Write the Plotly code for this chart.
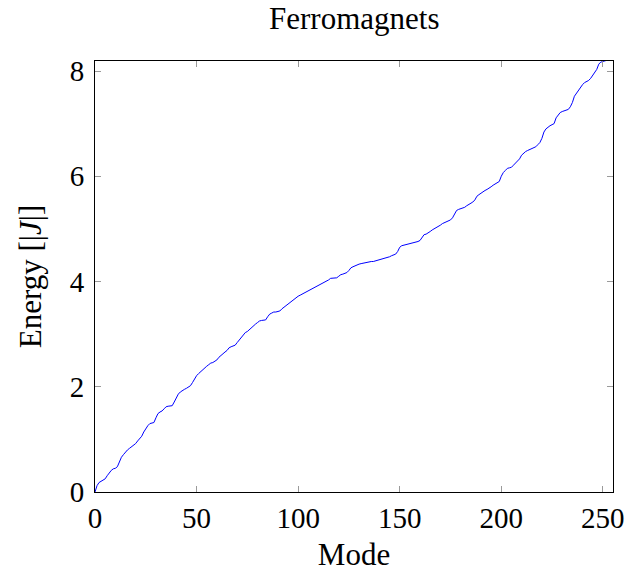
import plotly.graph_objects as go

modes = list(range(256))
energy = [
    0.00, 0.12, 0.18, 0.20, 0.22, 0.25, 0.31, 0.37, 0.41, 0.44,
    0.45, 0.48, 0.59, 0.66, 0.71, 0.76, 0.80, 0.83, 0.86, 0.88,
    0.92, 0.97, 1.01, 1.06, 1.14, 1.21, 1.26, 1.30, 1.31, 1.32,
    1.41, 1.49, 1.52, 1.54, 1.58, 1.62, 1.63, 1.63, 1.64, 1.71,
    1.80, 1.86, 1.90, 1.93, 1.95, 1.97, 1.99, 2.02, 2.08, 2.16,
    2.21, 2.25, 2.29, 2.33, 2.36, 2.39, 2.42, 2.45, 2.46, 2.48,
    2.51, 2.56, 2.60, 2.63, 2.66, 2.69, 2.74, 2.76, 2.77, 2.79,
    2.84, 2.89, 2.95, 3.00, 3.03, 3.05, 3.09, 3.12, 3.16, 3.19,
    3.22, 3.25, 3.26, 3.26, 3.27, 3.33, 3.38, 3.40, 3.42, 3.42,
    3.43, 3.44, 3.48, 3.51, 3.54, 3.57, 3.60, 3.63, 3.67, 3.70,
    3.72, 3.74, 3.76, 3.78, 3.80, 3.83, 3.85, 3.87, 3.89, 3.91,
    3.93, 3.95, 3.97, 3.99, 4.01, 4.03, 4.06, 4.06, 4.06, 4.07,
    4.10, 4.13, 4.14, 4.16, 4.17, 4.21, 4.26, 4.28, 4.30, 4.32,
    4.33, 4.34, 4.35, 4.36, 4.36, 4.37, 4.38, 4.38, 4.39, 4.40,
    4.41, 4.42, 4.44, 4.45, 4.46, 4.47, 4.49, 4.50, 4.52, 4.57,
    4.65, 4.68, 4.69, 4.70, 4.71, 4.72, 4.72, 4.73, 4.74, 4.76,
    4.78, 4.84, 4.89, 4.90, 4.92, 4.95, 4.98, 5.00, 5.02, 5.04,
    5.07, 5.10, 5.12, 5.14, 5.15, 5.17, 5.21, 5.28, 5.35, 5.37,
    5.38, 5.39, 5.41, 5.44, 5.46, 5.48, 5.51, 5.55, 5.62, 5.65,
    5.68, 5.70, 5.73, 5.75, 5.77, 5.80, 5.83, 5.85, 5.87, 5.90,
    6.00, 6.07, 6.11, 6.15, 6.16, 6.17, 6.21, 6.25, 6.28, 6.33,
    6.40, 6.44, 6.47, 6.49, 6.51, 6.53, 6.55, 6.56, 6.60, 6.64,
    6.72, 6.84, 6.90, 6.94, 6.96, 6.98, 7.00, 7.11, 7.17, 7.21,
    7.23, 7.24, 7.25, 7.27, 7.32, 7.40, 7.52, 7.58, 7.63, 7.68,
    7.74, 7.78, 7.80, 7.82, 7.86, 7.92, 7.98, 8.03, 8.13, 8.17,
    8.18, 8.19, 8.20, 8.21, 8.22, 8.24,
]

x_ticks = [0, 50, 100, 150, 200, 250]
y_ticks = [0, 2, 4, 6, 8]

FONT = "Liberation Serif"

fig = go.Figure()
fig.add_trace(go.Scatter(
    x=modes, y=energy, mode="lines",
    line=dict(color="#0000ff", width=1),
    showlegend=False, hoverinfo="skip",
))

axis_common = dict(
    showgrid=False, zeroline=False, automargin=False,
    showline=True, linecolor="black", linewidth=1, mirror="ticks",
    ticks="inside", ticklen=6, tickcolor="#9a9a9a", tickwidth=1,
    tickfont=dict(family=FONT, size=29, color="black"),
)

fig.update_layout(
    width=627, height=574,
    margin=dict(l=95, r=14, t=61, b=82),
    paper_bgcolor="white", plot_bgcolor="white",
    font=dict(family=FONT, color="black"),
    title=dict(text="Ferromagnets", x=0.565, xanchor="center",
               y=0.968, yanchor="middle",
               font=dict(family=FONT, size=31, color="black")),
    xaxis=dict(range=[0, 255], tickvals=x_ticks,
               ticktext=[str(v) for v in x_ticks],
               title=dict(text="Mode", font=dict(family=FONT, size=31), standoff=10),
               ticklabelstandoff=0,
               **axis_common),
    yaxis=dict(range=[0, 8.19], tickvals=y_ticks,
               ticktext=[str(v) for v in y_ticks],
               title=dict(text="Energy [|<i>J</i>|]", font=dict(family=FONT, size=31), standoff=18),
               ticklabelstandoff=4,
               **axis_common),
)

fig.write_html("out.html")
